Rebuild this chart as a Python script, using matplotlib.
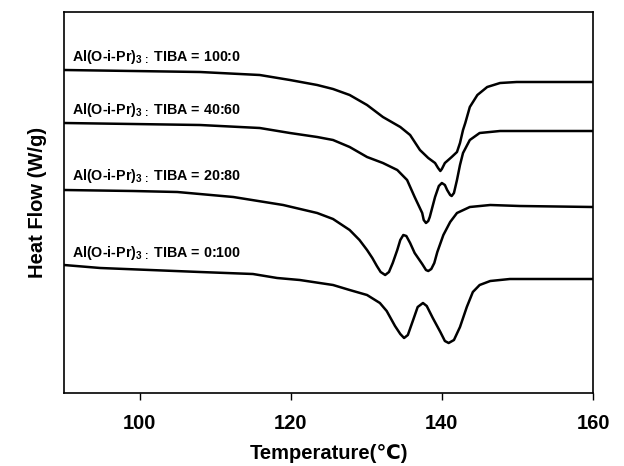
import matplotlib
matplotlib.use("Agg")
import matplotlib.pyplot as plt

plt.rcParams['font.family'] = ['Liberation Sans', 'DejaVu Sans']
plt.rcParams['font.weight'] = 'bold'
plt.rcParams['mathtext.fontset'] = 'custom'
plt.rcParams['mathtext.rm'] = 'Liberation Sans:bold'
plt.rcParams['mathtext.bf'] = 'Liberation Sans:bold'
plt.rcParams['mathtext.it'] = 'Liberation Sans:bold'

# ---- data (temperature in degC, heat flow in arbitrary offset units) ----
t_100_0 = [90.0, 99.1, 108.0, 115.9, 119.9, 123.5, 125.6, 127.8, 130.1, 132.2, 134.5, 135.8, 137.1, 138.2,
           139.1, 139.5, 139.8, 140.0, 140.4, 141.3, 142.0, 142.4, 142.8, 143.1, 143.7, 144.7, 146.0, 147.7,
           149.9, 160.0]
hf_100_0 = [323, 322, 321, 318, 313, 308, 304, 298, 288, 276, 266, 258, 243, 235,
            230, 225, 222, 224, 230, 236, 241, 250, 263, 270, 286, 298, 306, 310,
            311, 311]

t_40_60 = [90.0, 99.1, 108.0, 115.9, 119.9, 123.5, 125.6, 127.8, 130.1, 132.2, 134.1, 135.4, 136.4, 137.4,
           137.6, 137.9, 138.2, 138.4, 139.1, 139.6, 140.0, 140.4, 140.7, 141.1, 141.3, 141.6, 142.0, 142.4,
           142.8, 143.7, 145.0, 147.7, 160.0]
hf_40_60 = [270, 269, 268, 265, 260, 256, 253, 246, 236, 230, 223, 213, 196, 180,
            173, 170, 172, 176, 196, 207, 210, 208, 203, 198, 197, 200, 213, 228,
            240, 253, 260, 262, 262]

t_20_80 = [90.0, 99.1, 105.0, 112.4, 119.0, 123.5, 125.6, 127.8, 129.1, 130.1, 130.8, 131.4, 131.9, 132.5,
           133.0, 133.5, 134.1, 134.5, 134.9, 135.3, 135.8, 136.4, 137.4, 137.9, 138.2, 138.6, 139.0, 139.4,
           140.2, 141.1, 142.0, 143.7, 146.4, 150.3, 160.0]
hf_20_80 = [203, 202, 201, 196, 188, 180, 174, 163, 153, 143, 135, 127, 121, 118,
            121, 130, 143, 153, 158, 157, 150, 140, 129, 123, 122, 124, 130, 141,
            158, 171, 180, 186, 188, 187, 186]

t_0_100 = [90.0, 94.8, 108.0, 115.0, 118.2, 121.2, 125.6, 127.8, 130.1, 131.8, 132.7, 133.8, 134.5, 135.0,
           135.5, 136.2, 136.8, 137.5, 138.0, 138.8, 139.8, 140.4, 140.9, 141.6, 142.4, 143.3, 144.1, 145.0,
           146.4, 149.0, 160.0]
hf_0_100 = [128, 125, 121, 119, 115, 113, 108, 103, 98, 90, 82, 67, 59, 55,
            58, 73, 86, 90, 87, 75, 61, 52, 50, 53, 66, 86, 101, 108,
            112, 114, 114]

ratios = ["100:0", "40:60", "20:80", "0:100"]
label_y = [336, 283, 217, 140]
xticks = [100, 120, 140, 160]

fig = plt.figure(figsize=(6.24, 4.66), dpi=100)
ax = fig.add_axes([64/624, 1-393/466, (593-64)/624, (393-12)/466])

for t, hf in [(t_100_0, hf_100_0), (t_40_60, hf_40_60), (t_20_80, hf_20_80), (t_0_100, hf_0_100)]:
    ax.plot(t, hf, color='black', lw=1.8, solid_joinstyle='round', antialiased=True)

for r, yv in zip(ratios, label_y):
    ax.text(91.1, yv, "Al(O-i-Pr)$_{3\\,:}$ TIBA = " + r, fontsize=10.3, fontweight='bold',
            ha='left', va='center')

ax.set_xlim(90, 160)
ax.set_ylim(0, 381)
ax.set_xticks(xticks)
ax.set_xticklabels([str(v) for v in xticks], fontsize=14.5, fontweight='bold')
ax.set_yticks([])
ax.tick_params(axis='x', direction='out', length=5, width=1, pad=10)
for s in ax.spines.values():
    s.set_linewidth(1.2)

ax.set_xlabel("Temperature(℃)", fontsize=14.5, fontweight='bold', labelpad=8)
ax.set_ylabel("Heat Flow (W/g)", fontsize=14.5, fontweight='bold', labelpad=12)

fig.savefig("out.png", dpi=100)
